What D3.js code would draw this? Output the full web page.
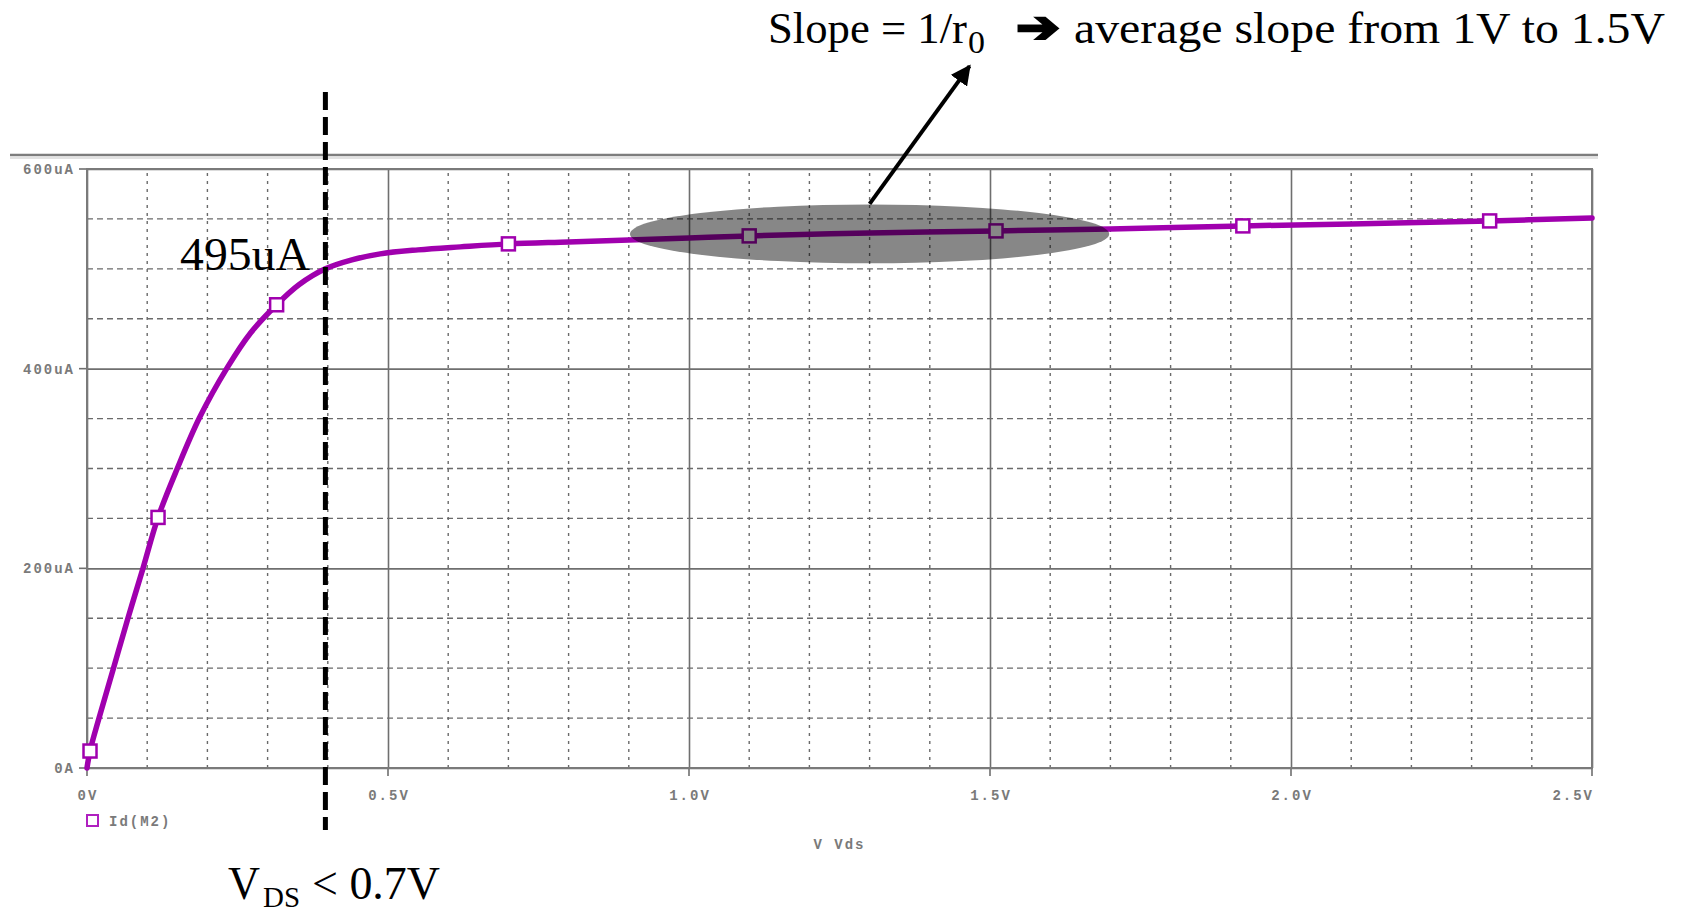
<!DOCTYPE html>
<html>
<head>
<meta charset="utf-8">
<script src="https://cdn.jsdelivr.net/npm/d3@7"></script>
<style>
  html, body { margin: 0; padding: 0; background: #fff; }
  svg { display: block; }
  .tick-lbl { font-family: "Liberation Mono", "DejaVu Sans Mono", monospace; font-size: 14px; font-weight: bold; fill: #7a7a7a; letter-spacing: 2px; }
  .note { font-family: "Liberation Serif", "Times New Roman", serif; fill: #000; }
</style>
</head>
<body>
<script>
// Id(M2) vs Vds
var vds = [0, 0.005, 0.020, 0.044, 0.068, 0.093, 0.118, 0.150, 0.187, 0.233, 0.272, 0.315, 0.352, 0.396, 0.440, 0.487, 0.550, 0.620, 0.700, 0.800, 0.900, 1.00, 1.10, 1.30, 1.51, 1.70, 1.92, 2.10, 2.33, 2.50];
var idUA = [0, 17, 50, 100, 150, 200, 251, 300, 351, 401, 436, 464, 484, 500, 509, 515, 519, 522, 525, 527, 529, 531, 533, 536, 538, 540, 543, 545, 548, 551];

// marker squares along the trace
var markerV = [0.005, 0.118, 0.315, 0.70, 1.10, 1.51, 1.92, 2.33];
var markerI = [17, 251, 464, 525, 533, 538, 543, 548];

// axes
var xMajor = [0, 0.5, 1.0, 1.5, 2.0, 2.5];
var xLabels = ["0V", "0.5V", "1.0V", "1.5V", "2.0V", "2.5V"];
var yMajor = [0, 200, 400, 600];
var yLabels = ["0A", "200uA", "400uA", "600uA"];
var xMinor = d3.range(0, 26).map(function(i) { return i / 10; }).filter(function(v) { return Math.round(v * 10) % 5 !== 0; });
var yMinor = [50, 100, 150, 250, 300, 350, 450, 500, 550];

// annotations (data units)
var vdsLine = 0.396;
var ellipseV = 1.30, ellipseI = 535, ellipseRV = 0.398, ellipseRI = 29.5;
var arrowFrom = [1.30, 565], arrowTo = [1.466, 703];

var W = 1688, H = 914;
var svg = d3.select("body").append("svg").attr("width", W).attr("height", H);

var x = d3.scaleLinear().domain([0, 2.5]).range([87, 1592]);
var y = d3.scaleLinear().domain([0, 600]).range([768, 169]);

// top separator bar
svg.append("line").attr("x1", 10).attr("x2", 1598).attr("y1", 155).attr("y2", 155)
  .attr("stroke", "#7d7d7d").attr("stroke-width", 2.5);
svg.append("line").attr("x1", 10).attr("x2", 1598).attr("y1", 158).attr("y2", 158)
  .attr("stroke", "#e2e2e2").attr("stroke-width", 2);

var grid = svg.append("g");
grid.selectAll(".hmin").data(yMinor).enter().append("line")
  .attr("x1", x(0)).attr("x2", x(2.5)).attr("y1", d => y(d)).attr("y2", d => y(d))
  .attr("stroke", "#6a6a6a").attr("stroke-width", 1.4).attr("stroke-dasharray", "6,4");
grid.selectAll(".vmin").data(xMinor).enter().append("line")
  .attr("y1", y(0)).attr("y2", y(600)).attr("x1", d => x(d)).attr("x2", d => x(d))
  .attr("stroke", "#6a6a6a").attr("stroke-width", 1.4).attr("stroke-dasharray", "3,5");

// major grid + axes via d3 axis
var xAxis = svg.append("g").attr("transform", "translate(0," + y(0) + ")")
  .call(d3.axisBottom(x).tickValues(xMajor).tickSize(-(y(0) - y(600))).tickSizeOuter(0).tickFormat(""));
var yAxis = svg.append("g").attr("transform", "translate(" + x(0) + ",0)")
  .call(d3.axisLeft(y).tickValues(yMajor).tickSize(-(x(2.5) - x(0))).tickSizeOuter(0).tickFormat(""));
[xAxis, yAxis].forEach(function(a) {
  a.select(".domain").remove();
  a.selectAll(".tick line").attr("stroke", "#6f6f6f").attr("stroke-width", 1.6);
});
// small outside ticks
svg.selectAll(".xt").data(xMajor).enter().append("line")
  .attr("x1", d => x(d)).attr("x2", d => x(d)).attr("y1", y(0)).attr("y2", y(0) + 8)
  .attr("stroke", "#6f6f6f").attr("stroke-width", 1.6);
svg.selectAll(".yt").data(yMajor).enter().append("line")
  .attr("x1", x(0) - 8).attr("x2", x(0)).attr("y1", d => y(d)).attr("y2", d => y(d))
  .attr("stroke", "#6f6f6f").attr("stroke-width", 1.6);
// frame
svg.append("rect").attr("x", x(0)).attr("y", y(600)).attr("width", x(2.5) - x(0)).attr("height", y(0) - y(600))
  .attr("fill", "none").attr("stroke", "#7a7a7a").attr("stroke-width", 2);

// tick labels
svg.selectAll(".xl").data(xMajor).enter().append("text").attr("class", "tick-lbl")
  .attr("x", (d, i) => i === xMajor.length - 1 ? x(d) + 2 : x(d) + 1)
  .attr("y", 800)
  .attr("text-anchor", (d, i) => i === xMajor.length - 1 ? "end" : "middle")
  .text((d, i) => xLabels[i]);
svg.selectAll(".yl").data(yMajor).enter().append("text").attr("class", "tick-lbl")
  .attr("x", 75).attr("y", d => y(d) + 5).attr("text-anchor", "end")
  .text((d, i) => yLabels[i]);
svg.append("text").attr("class", "tick-lbl").attr("x", x(1.25)).attr("y", 849)
  .attr("text-anchor", "middle").text("V Vds");

// legend
svg.append("rect").attr("x", 87).attr("y", 815).attr("width", 11).attr("height", 11)
  .attr("fill", "#fff").attr("stroke", "#b020c0").attr("stroke-width", 2);
svg.append("text").attr("class", "tick-lbl").attr("x", 109).attr("y", 826).text("Id(M2)");

// trace
var purple = "#a000ae";
var pts = vds.map(function(v, i) { return [v, idUA[i]]; });
svg.append("path").datum(pts)
  .attr("d", d3.line().x(d => x(d[0])).y(d => y(d[1])).curve(d3.curveCatmullRom.alpha(0.5)))
  .attr("fill", "none").attr("stroke", purple).attr("stroke-width", 5.5)
  .attr("stroke-linejoin", "round").attr("stroke-linecap", "round");
svg.selectAll(".mk").data(markerV).enter().append("rect")
  .attr("x", d => x(d) - 6.5).attr("y", (d, i) => y(markerI[i]) - 6.5)
  .attr("width", 13).attr("height", 13)
  .attr("fill", "#fff").attr("stroke", purple).attr("stroke-width", 2.5);

// shaded ellipse over saturation region
svg.append("ellipse")
  .attr("cx", x(ellipseV)).attr("cy", y(ellipseI))
  .attr("rx", x(ellipseV + ellipseRV) - x(ellipseV)).attr("ry", y(ellipseI - ellipseRI) - y(ellipseI))
  .attr("fill", "#000").attr("fill-opacity", 0.47);

// arrow to the slope note
svg.append("defs").append("marker").attr("id", "ah")
  .attr("viewBox", "0 0 10 10").attr("refX", 9).attr("refY", 5)
  .attr("markerWidth", 5).attr("markerHeight", 5).attr("orient", "auto")
  .append("path").attr("d", "M0,0L10,5L0,10z").attr("fill", "#000");
svg.append("line")
  .attr("x1", x(arrowFrom[0])).attr("y1", y(arrowFrom[1]))
  .attr("x2", x(arrowTo[0])).attr("y2", y(arrowTo[1]))
  .attr("stroke", "#000").attr("stroke-width", 4).attr("marker-end", "url(#ah)");

// dashed VDS boundary
svg.append("line")
  .attr("x1", x(vdsLine)).attr("x2", x(vdsLine)).attr("y1", 92).attr("y2", 830)
  .attr("stroke", "#000").attr("stroke-width", 5).attr("stroke-dasharray", "18,7");

// text notes
function note(txt, px, py, size, len, font) {
  var t = svg.append("text").attr("class", "note").attr("x", px).attr("y", py)
    .attr("font-size", size).text(txt);
  if (font) t.style("font-family", font);
  if (len) t.attr("textLength", len).attr("lengthAdjust", "spacingAndGlyphs");
  return t;
}
note("Slope = 1/r", 768, 43, 45, 199);
note("0", 968, 53, 31, 17);
note("\u2794", 1016, 42, 44, 44, "DejaVu Sans").attr("font-weight", "bold")
  .attr("stroke", "#000").attr("stroke-width", 2.5);
note("average slope from 1V to 1.5V", 1074, 43, 45, 591);
note("495uA", 180, 270, 47, 130);
note("V", 228, 899, 46, 32);
note("DS", 263, 907, 30, 37);
note("< 0.7V", 312, 899, 46, 128);
</script>
</body>
</html>
